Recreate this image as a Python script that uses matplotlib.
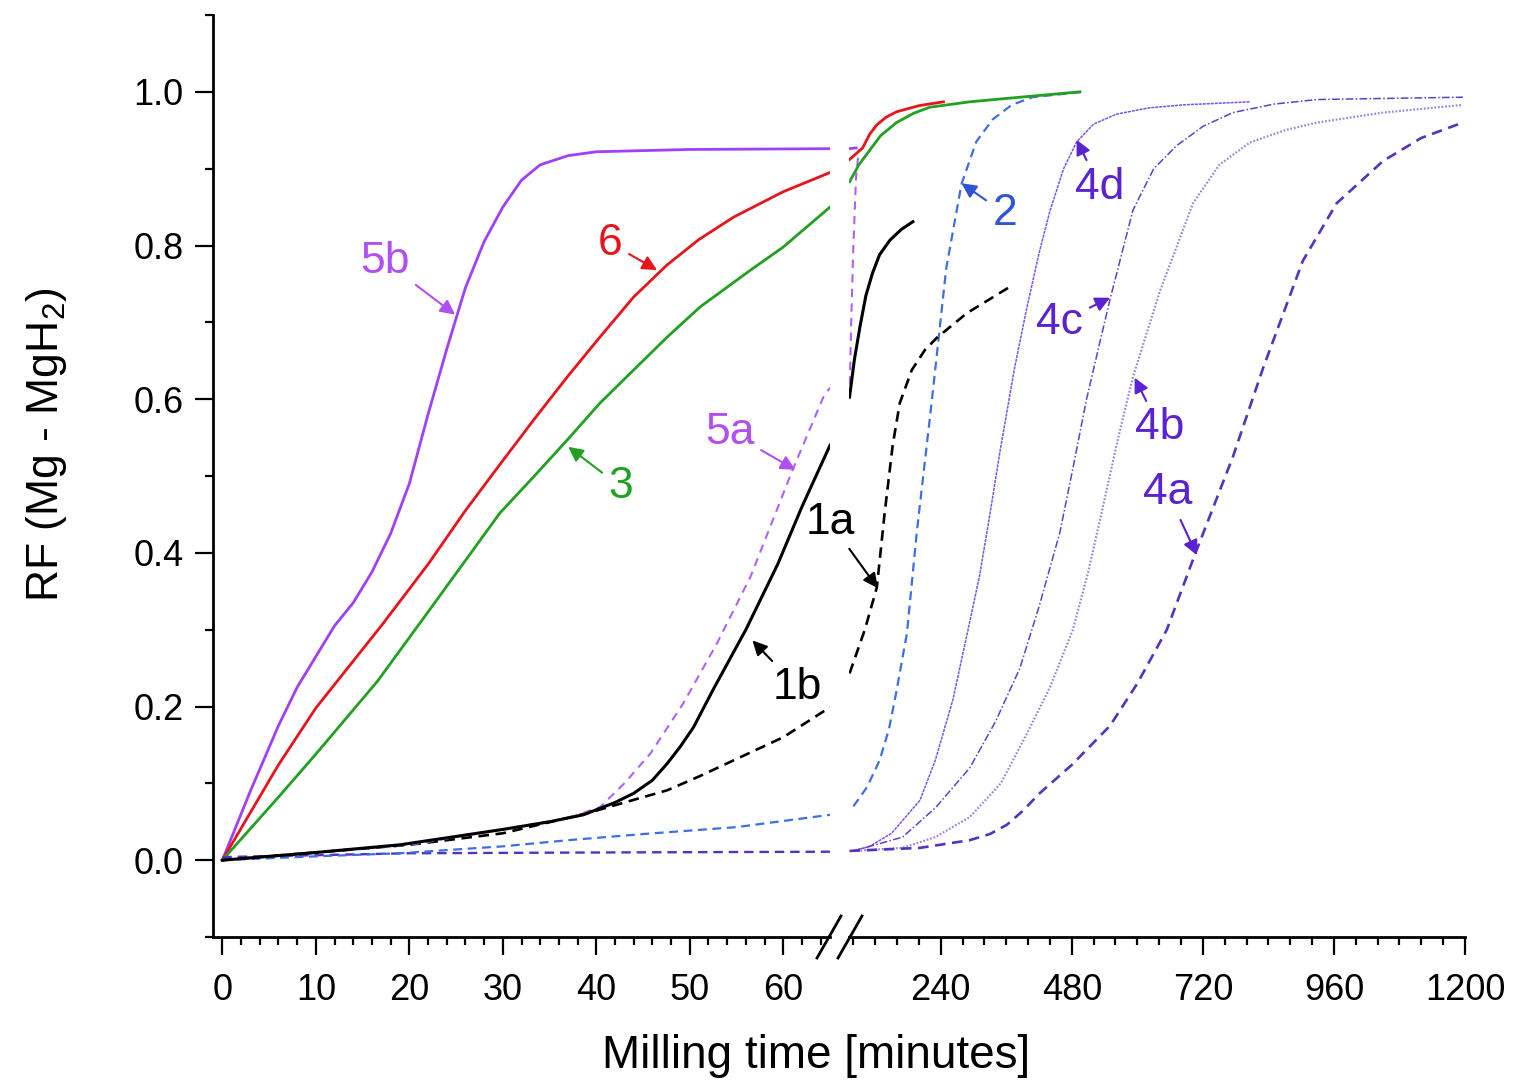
import matplotlib
matplotlib.use("Agg")
import matplotlib.pyplot as plt
from matplotlib.lines import Line2D

plt.rcParams['font.family'] = ['Liberation Sans', 'DejaVu Sans']
plt.rcParams['mathtext.default'] = 'regular'

# ---- data: left part (0-65 min), right part (>70 min)
t5b_l = [0, 3, 6, 8, 10, 12, 14, 16, 18, 20, 22, 24, 26, 28, 30, 32, 34, 37, 40, 50, 65]
y5b_l = [0, 0.09, 0.175, 0.225, 0.265, 0.305, 0.335, 0.375, 0.425, 0.49, 0.58, 0.665,
         0.745, 0.805, 0.85, 0.885, 0.905, 0.917, 0.922, 0.925, 0.926]
t5b_r = [72, 85]
y5b_r = [0.926, 0.927]

t6_l = [0, 6, 10, 17, 22, 26, 30, 33.3, 36.9, 40.4, 44, 47.6, 51, 54.7, 60, 65]
y6_l = [0, 0.124, 0.198, 0.305, 0.385, 0.455, 0.52, 0.573, 0.629, 0.681, 0.733, 0.775,
        0.808, 0.837, 0.87, 0.895]
t6_r = [73, 97, 110, 123, 140, 159, 200, 245]
y6_r = [0.912, 0.927, 0.945, 0.957, 0.967, 0.974, 0.982, 0.987]

t3_l = [0, 6, 10, 16.6, 22, 26, 29.7, 33.3, 36.9, 40.4, 44, 47.6, 51.1, 56.5, 60, 65]
y3_l = [0, 0.082, 0.138, 0.233, 0.323, 0.39, 0.452, 0.499, 0.547, 0.595, 0.638, 0.681,
        0.72, 0.768, 0.798, 0.85]
t3_r = [73, 90, 110, 130, 159, 190, 220, 293, 385, 495]
y3_r = [0.883, 0.905, 0.924, 0.943, 0.96, 0.972, 0.98, 0.987, 0.993, 1.0]

t1b_l = [0, 10, 19, 30, 35, 38.6, 42, 44, 46, 47.6, 49, 50.4, 52.5, 56, 59.4, 62, 65]
y1b_l = [0, 0.01, 0.02, 0.04, 0.05, 0.059, 0.075, 0.087, 0.104, 0.126, 0.148, 0.173,
         0.222, 0.30, 0.385, 0.46, 0.54]
t1b_r = [73, 82, 92, 103, 115, 128, 147, 168, 189]
y1b_r = [0.603, 0.652, 0.694, 0.735, 0.764, 0.788, 0.807, 0.821, 0.831]

t1a_l = [0, 10, 20, 30, 39, 43, 47.6, 51, 54.7, 60, 65]
y1a_l = [0, 0.01, 0.02, 0.035, 0.061, 0.075, 0.091, 0.109, 0.13, 0.16, 0.199]
t1a_r = [73, 101, 123, 137, 152, 165, 187, 211, 233, 288, 366]
y1a_r = [0.243, 0.30, 0.355, 0.45, 0.54, 0.595, 0.638, 0.664, 0.68, 0.712, 0.746]

t5a_l = [0, 10, 20, 30, 37, 40.4, 43, 45.8, 49.3, 52.9, 56.5, 61, 64.3, 65]
y5a_l = [0, 0.01, 0.02, 0.04, 0.055, 0.069, 0.1, 0.139, 0.204, 0.282, 0.369, 0.508, 0.603, 0.615]
t5a_r = [73, 76, 80, 85, 90]
y5a_r = [0.60, 0.70, 0.80, 0.89, 0.925]

t2_l = [0, 10, 19, 30, 37, 45, 55, 65]
y2_l = [0, 0.005, 0.009, 0.018, 0.026, 0.034, 0.043, 0.059]
t2_r = [80, 105, 128, 145, 159, 178, 196, 224, 250, 278, 305, 335, 370, 408, 500]
y2_r = [0.07, 0.095, 0.13, 0.17, 0.22, 0.295, 0.426, 0.6, 0.77, 0.88, 0.935, 0.964, 0.983,
        0.993, 1.0]

t4a_l = [0, 20, 40, 65]
y4a_l = [0.004, 0.009, 0.010, 0.011]
t4a_r = [73, 202, 293, 330, 361, 390, 421, 480, 550, 600, 654, 705, 775, 830, 903, 965,
         1050, 1120, 1196]
y4a_r = [0.012, 0.016, 0.026, 0.034, 0.046, 0.064, 0.087, 0.124, 0.175, 0.23, 0.30, 0.397,
         0.525, 0.64, 0.78, 0.855, 0.91, 0.94, 0.96]

t4b_r = [80, 170, 230, 293, 350, 398, 440, 482, 510, 537, 565, 592, 641, 702, 750, 806,
         870, 929, 1050, 1196]
y4b_r = [0.012, 0.016, 0.03, 0.056, 0.1, 0.165, 0.225, 0.3, 0.375, 0.46, 0.55, 0.629, 0.74,
         0.855, 0.905, 0.934, 0.95, 0.96, 0.973, 0.983]

t4c_r = [80, 170, 230, 293, 340, 385, 420, 458, 482, 507, 530, 550, 592, 630, 672, 720,
         775, 850, 929, 1196]
y4c_r = [0.012, 0.03, 0.068, 0.12, 0.18, 0.25, 0.33, 0.426, 0.51, 0.6, 0.67, 0.73, 0.846,
         0.9, 0.93, 0.955, 0.973, 0.984, 0.99, 0.993]

t4d_r = [79, 110, 150, 202, 230, 262, 290, 311, 330, 348, 375, 398, 420, 440, 465, 489,
         520, 562, 620, 683, 806]
y4d_r = [0.012, 0.018, 0.035, 0.078, 0.13, 0.208, 0.3, 0.37, 0.45, 0.53, 0.64, 0.72, 0.79,
         0.845, 0.9, 0.935, 0.958, 0.971, 0.979, 0.983, 0.987]

xt_left = [0, 10, 20, 30, 40, 50, 60]
xt_right = [240, 480, 720, 960, 1200]
yt = [0.0, 0.2, 0.4, 0.6, 0.8, 1.0]

# ---- figure
W, H = 1516, 1089
fig = plt.figure(figsize=(W / 100, H / 100), dpi=100)
ax1 = fig.add_axes([213 / W, 152 / H, (830 - 213) / W, 922 / H])
ax2 = fig.add_axes([849 / W, 152 / H, (1465 - 849) / W, 922 / H])

c5b = '#a040f8'
c5a = '#b060f8'
c6 = '#e8141c'
c3 = '#22a022'
c2 = '#3d6fe3'
c4 = '#5a22d0'

# left part
ax1.plot(t5b_l, y5b_l, color=c5b, lw=2.0)
ax1.plot(t6_l, y6_l, color=c6, lw=2.0)
ax1.plot(t3_l, y3_l, color=c3, lw=2.0)
ax1.plot(t4a_l, y4a_l, color='#5532c0', lw=1.7, dashes=(4, 2.5))
ax1.plot(t2_l, y2_l, color=c2, lw=1.6, dashes=(4, 2.5))
ax1.plot(t1a_l, y1a_l, color='black', lw=1.9, dashes=(4, 2.5))
ax1.plot(t5a_l, y5a_l, color=c5a, lw=1.5, dashes=(4, 3))
ax1.plot(t1b_l, y1b_l, color='black', lw=2.2)

# right part
ax2.plot(t4d_r, y4d_r, color='#7a52ee', lw=1.1, dashes=(2, 0.6))
ax2.plot(t4c_r, y4c_r, color='#6040c8', lw=1.1, dashes=(5, 1.5, 1, 1.5))
ax2.plot(t4b_r, y4b_r, color='#9a88d8', lw=1.6, dashes=(0.8, 0.8))
ax2.plot(t4a_r, y4a_r, color='#5532c0', lw=1.9, dashes=(4, 2.5))
ax2.plot(t2_r, y2_r, color=c2, lw=1.6, dashes=(4, 2.5))
ax2.plot(t1a_r, y1a_r, color='black', lw=1.9, dashes=(4, 2.5))
ax2.plot(t5a_r, y5a_r, color=c5a, lw=1.5, dashes=(4, 3))
ax2.plot(t1b_r, y1b_r, color='black', lw=2.2)
ax2.plot(t5b_r, y5b_r, color=c5b, lw=2.0)
ax2.plot(t3_r, y3_r, color=c3, lw=2.0)
ax2.plot(t6_r, y6_r, color=c6, lw=2.0)

# axes styling
for ax in (ax1, ax2):
    ax.set_ylim(-0.1, 1.1)
    ax.spines['top'].set_visible(False)
    ax.spines['right'].set_visible(False)
    for s in ax.spines.values():
        s.set_linewidth(2.0)
    ax.tick_params(which='major', length=13, width=1.6, labelsize=26)
    ax.tick_params(axis='x', which='major', pad=13)
    ax.tick_params(axis='y', which='major', pad=8)
    ax.tick_params(which='minor', length=6, width=1.6)
    ax.patch.set_alpha(0)

ax1.set_xlim(-1, 65)
ax1.set_xticks(xt_left)
ax1.set_xticks(range(2, 65, 2), minor=True)
ax1.set_yticks(yt)
ax1.set_yticklabels(['%.1f' % v for v in yt])
ax1.set_yticks([-0.1, 0.1, 0.3, 0.5, 0.7, 0.9, 1.1], minor=True)

ax2.set_xlim(72, 1200)
ax2.set_xticks(xt_right)
ax2.set_xticks([v for v in range(80, 1200, 40) if v % 240], minor=True)
ax2.spines['left'].set_visible(False)
ax2.tick_params(axis='y', which='both', left=False, labelleft=False)

# break marks on the x axis
for x0 in (817, 838):
    fig.add_artist(Line2D([x0 / W, (x0 + 24) / W], [1 - 958 / H, 1 - 916 / H],
                          transform=fig.transFigure, color='black', lw=2.0))

fig.text(816 / W, 1 - 1056 / H, 'Milling time [minutes]', ha='center', va='center', fontsize=33)
fig.text(47 / W, 1 - 445 / H, 'RF (Mg - MgH$_2$)', ha='center', va='center',
         rotation=90, fontsize=32)

# curve labels with arrows
def tag(ax, s, tip, txt, color, tcoords='data'):
    ax.annotate(s, xy=tip, xytext=txt, textcoords=tcoords, color=color, fontsize=32,
                ha='center', va='center', annotation_clip=False,
                arrowprops=dict(arrowstyle='-|>', color=color, lw=1.5,
                                mutation_scale=22, shrinkA=3, shrinkB=0))

tag(ax1, '5b', (24.9, 0.710), (17.4, 0.779), '#b050f0')
tag(ax1, '6', (46.5, 0.768), (41.5, 0.803), c6)
tag(ax1, '3', (37.0, 0.538), (42.6, 0.486), c3)
tag(ax1, '5a', (61.3, 0.508), (54.3, 0.557), '#b050f0')
tag(ax1, '1b', (56.7, 0.286), (61.5, 0.225), 'black')
tag(ax2, '1a', (124.6, 0.354), (65.0, 0.44), 'black', tcoords=ax1.transData)
tag(ax2, '2', (278, 0.881), (357, 0.842), '#2f55d4')
tag(ax2, '4d', (489, 0.9375), (531, 0.876), c4)
tag(ax2, '4c', (550, 0.732), (458, 0.70), c4)
tag(ax2, '4b', (595, 0.628), (641, 0.5625), c4)
tag(ax2, '4a', (709, 0.397), (656, 0.478), c4)

fig.savefig('out.png', dpi=100)
